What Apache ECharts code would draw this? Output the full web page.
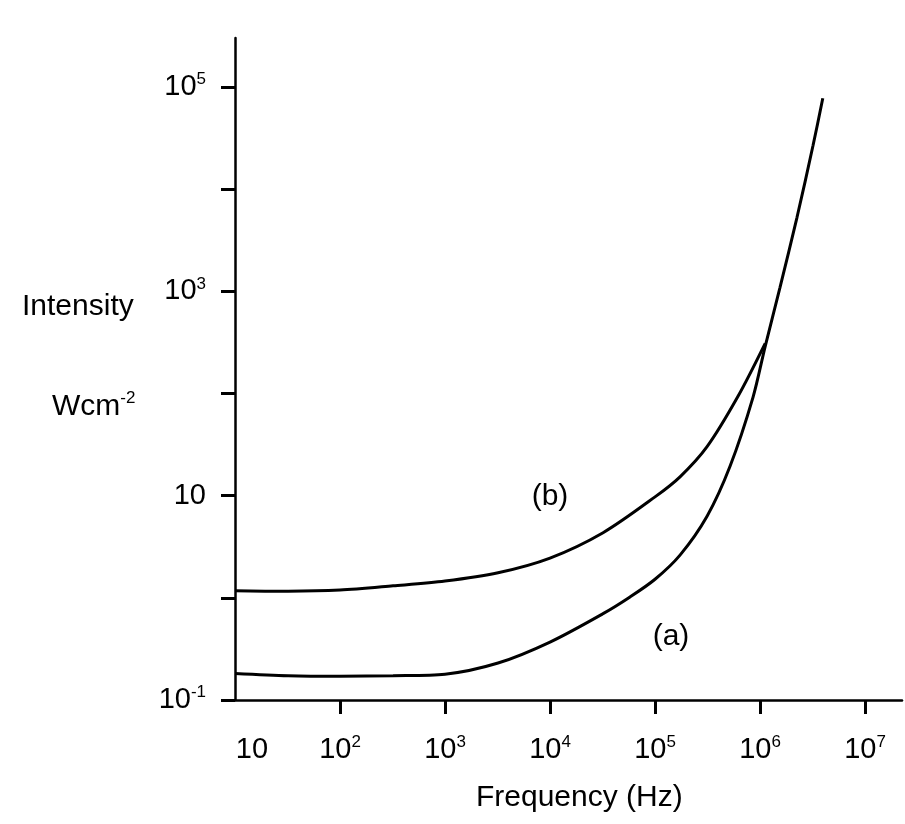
<!DOCTYPE html>
<html><head><meta charset="utf-8">
<script src="https://cdn.jsdelivr.net/npm/echarts@6/dist/echarts.min.js"></script>
<style>html,body{margin:0;padding:0;background:#fff}#c{width:905px;height:824px}</style>
</head><body><div id="c"></div>
<script>
// Curve (b)
const freqB = [10, 32, 100, 320, 1000, 3200, 10000, 32000, 100000, 173000, 313000, 617000, 1120000];
const intensityB = [1.17, 1.16, 1.19, 1.31, 1.46, 1.76, 2.45, 4.34, 9.73, 15.3, 30.2, 94, 310];
// Curve (a)
const freqA = [10, 32, 100, 320, 1000, 3200, 10000, 32000, 57800, 100000, 173000, 313000, 518000, 857000, 1120000, 1550000, 2250000, 3200000, 3960000];
const intensityA = [0.182, 0.173, 0.171, 0.173, 0.179, 0.230, 0.369, 0.700, 1.02, 1.52, 2.62, 6.30, 19.4, 91.8, 290, 1096, 5310, 26900, 77600];
// Axis ticks (powers of ten)
const xTickExponents = [2, 3, 4, 5, 6, 7];
const xLabelExponents = [1, 2, 3, 4, 5, 6, 7];
const yTickExponents = [-1, 0, 1, 2, 3, 4, 5];
const yLabelExponents = [-1, 1, 3, 5];
const curveLabels = [
  { name: '(b)', freq: 10000, intensity: 9.66 },
  { name: '(a)', freq: 142000, intensity: 0.42 }
];
const xTitle = 'Frequency (Hz)';
const yTitle1 = 'Intensity';
const yTitleUnit = 'Wcm';
const yTitleSup = '-2';

const FONT = '"Liberation Sans", Arial, sans-serif';
const INK = '#000';
const toLog = (xs, ys) => xs.map((x, i) => [Math.log10(x), Math.log10(ys[i])]);

const richLabel = {
  b: { fontSize: 29, lineHeight: 32, fontFamily: FONT, color: INK },
  f: { fontSize: 29, lineHeight: 32, fontFamily: FONT, color: INK, padding: [0, 0, 0, 34] },
  s: { fontSize: 17, lineHeight: 17, fontFamily: FONT, color: INK, verticalAlign: 'top' }
};
function expLabel(v, isX) {
  const e = Math.round(v);
  if (e === 1) return isX ? '{f|10}' : '{b|10}';
  if (e === 0) return '{b|1}';
  return '{b|10}{s|' + e + '}';
}

const chart = echarts.init(document.getElementById('c'), null, { renderer: 'canvas' });
chart.setOption({
  backgroundColor: '#fff',
  animation: false,
  grid: { left: 235, right: 3, top: 38, bottom: 124, containLabel: false, outerBoundsMode: 'none' },
  xAxis: {
    type: 'value', min: 1, max: 7.352,
    axisLine: { show: true, onZero: false, lineStyle: { color: INK, width: 2.5 } },
    axisTick: { show: true, length: 14, inside: false, customValues: xTickExponents, lineStyle: { color: INK, width: 3 } },
    axisLabel: { show: true, margin: 34, fontSize: 29, fontFamily: FONT, color: INK, customValues: xLabelExponents, formatter: v => expLabel(v, true), rich: richLabel },
    splitLine: { show: false }
  },
  yAxis: {
    type: 'value', min: -1, max: 5.48,
    axisLine: { show: true, onZero: false, lineStyle: { color: INK, width: 2.5 } },
    axisTick: { show: true, length: 14, inside: false, customValues: yTickExponents, lineStyle: { color: INK, width: 3 } },
    axisLabel: { show: true, margin: 29, fontSize: 29, fontFamily: FONT, color: INK, customValues: yLabelExponents, formatter: v => expLabel(v, false), rich: richLabel },
    splitLine: { show: false }
  },
  series: [
    {
      name: '(b)', type: 'line', data: toLog(freqB, intensityB), showSymbol: false,
      smooth: 0.3,
      lineStyle: { color: INK, width: 3 }
    },
    {
      name: '(a)', type: 'line', data: toLog(freqA, intensityA), showSymbol: false,
      smooth: 0.3,
      lineStyle: { color: INK, width: 3 }
    },
    {
      type: 'scatter', symbolSize: 2, itemStyle: { color: 'rgba(0,0,0,0)', opacity: 1 },
      data: curveLabels.map(c => [Math.log10(c.freq), Math.log10(c.intensity), c.name]),
      label: { show: true, position: 'inside', formatter: p => p.data[2], fontFamily: FONT, fontSize: 30, color: INK, opacity: 1 },
      silent: true
    }
  ],
  graphic: [
    { type: 'text', left: 22, top: 292, style: { text: yTitle1, font: '30px ' + FONT, fill: INK } },
    { type: 'text', left: 52, top: 390, style: {
        text: '{b|' + yTitleUnit + '}{s|' + yTitleSup + '}',
        rich: {
          b: { fontSize: 30, lineHeight: 33, fontFamily: FONT, fill: INK, color: INK },
          s: { fontSize: 17, lineHeight: 17, fontFamily: FONT, fill: INK, color: INK, verticalAlign: 'top' }
        }
    } },
    { type: 'text', left: 476, top: 783, style: { text: xTitle, font: '30px ' + FONT, fill: INK } }
  ]
});
</script>
</body></html>
